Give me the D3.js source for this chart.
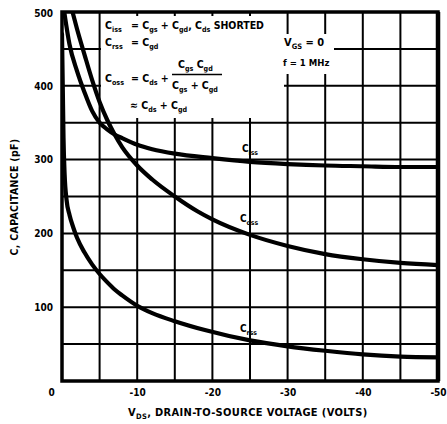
<!DOCTYPE html>
<html>
<head>
<meta charset="utf-8">
<script src="https://cdn.jsdelivr.net/npm/d3@7/dist/d3.min.js"></script>
<style>
  body { margin: 0; background: #fff; }
  text { font-family: "DejaVu Sans Condensed", "DejaVu Sans", sans-serif; font-weight: bold; fill: #000; }
</style>
</head>
<body>
<script>
// axis ticks (volts shown as negative numbers)
var vdsTicks = [0, 10, 20, 30, 40, 50];
var capTicks = [100, 200, 300, 400, 500];
var vdsGrid = [5, 10, 15, 20, 25, 30, 35, 40, 45];
var capGrid = [50, 100, 150, 200, 250, 300, 350, 400, 450];

// curves: [|VDS|, pF]
var cissPts = [[0.3, 500], [1, 456], [2, 420], [3, 391], [4, 366], [5, 350], [6, 341], [7, 334],
  [8, 329], [10, 320], [12, 314], [15, 308], [20, 302], [25, 297], [30, 294], [35, 292],
  [40, 291], [45, 290], [50, 290]];
var cossPts = [[1.4, 500], [2, 477], [3, 442], [4, 408], [5, 378], [6, 354], [7, 334], [8, 317],
  [10, 292], [12, 273], [15, 250], [18, 230], [20, 219], [25, 198], [30, 183], [35, 172],
  [40, 165], [45, 160], [50, 157]];
var crssPts = [[0, 470], [0.1, 400], [0.2, 330], [0.35, 280], [0.6, 246], [1, 225], [1.5, 208],
  [2, 194], [3, 174], [4, 158], [5, 145], [6, 134], [7, 124], [8, 116], [10, 102], [12, 92],
  [15, 81], [19, 69], [25, 55], [30, 47], [35, 41], [40, 36], [45, 33], [50, 32]];

var W = 447, H = 424;
var pL = 62, pR = 438, pT = 12, pB = 381;

var svg = d3.select("body").append("svg")
  .attr("width", W)
  .attr("height", H);

var x = d3.scaleLinear().domain([0, 50]).range([pL, pR]);
var y = d3.scaleLinear().domain([0, 500]).range([pB, pT]);

// grid
svg.selectAll("line.vg").data(vdsGrid).enter().append("line")
  .attr("x1", function(d){ return x(d); }).attr("x2", function(d){ return x(d); })
  .attr("y1", pT).attr("y2", pB)
  .attr("stroke", "#000").attr("stroke-width", 2);
svg.selectAll("line.hg").data(capGrid).enter().append("line")
  .attr("x1", pL).attr("x2", pR)
  .attr("y1", function(d){ return y(d); }).attr("y2", function(d){ return y(d); })
  .attr("stroke", "#000").attr("stroke-width", 2);

// white boxes behind the notes
svg.append("rect").attr("x", 101).attr("y", 16).attr("width", 183).attr("height", 102).attr("fill", "#fff");
svg.append("rect").attr("x", 282).attr("y", 34).attr("width", 52).attr("height", 40).attr("fill", "#fff");

// frame
svg.append("rect")
  .attr("x", pL).attr("y", pT)
  .attr("width", pR - pL).attr("height", pB - pT)
  .attr("fill", "none").attr("stroke", "#000").attr("stroke-width", 3.5);
svg.append("line").attr("x1", pR).attr("x2", pR).attr("y1", pT).attr("y2", pB)
  .attr("stroke", "#000").attr("stroke-width", 4.5);

// curves
svg.append("clipPath").attr("id", "plot")
  .append("rect").attr("x", pL).attr("y", pT).attr("width", pR - pL).attr("height", pB - pT);

var line = d3.line()
  .x(function(d){ return x(d[0]); })
  .y(function(d){ return y(d[1]); })
  .curve(d3.curveMonotoneX);

[cissPts, cossPts, crssPts].forEach(function(pts){
  svg.append("path")
    .datum(pts)
    .attr("d", line)
    .attr("clip-path", "url(#plot)")
    .attr("fill", "none")
    .attr("stroke", "#000")
    .attr("stroke-width", 4.2)
    .attr("stroke-linecap", "round");
});

// axes
var xAxis = svg.append("g")
  .attr("transform", "translate(0," + pB + ")")
  .call(d3.axisBottom(x).tickValues(vdsTicks).tickSize(0).tickPadding(8)
    .tickFormat(function(d){ return d === 0 ? "0" : "-" + d; }));
var yAxis = svg.append("g")
  .attr("transform", "translate(" + pL + ",0)")
  .call(d3.axisLeft(y).tickValues(capTicks).tickSize(0).tickPadding(9));
[xAxis, yAxis].forEach(function(g){
  g.select(".domain").remove();
  g.attr("font-family", null).attr("font-size", null);
  g.selectAll("text").style("font-size", "10px");
});
xAxis.selectAll(".tick").filter(function(d){ return d === 0; })
  .select("text").attr("dx", -11);
yAxis.selectAll(".tick").filter(function(d){ return d === 500; })
  .select("text").attr("dy", "0.4em");

// text with subscripts: parts = [[string, isSub], ...]
function rich(px, py, parts, size) {
  size = size || 10.5;
  var t = svg.append("text").attr("x", px).attr("y", py).style("font-size", size + "px");
  var sub = false;
  parts.forEach(function(p){
    var s = t.append("tspan").text(p[0]);
    if (p[1] && !sub) { s.attr("dy", 2.5).style("font-size", (size * 0.68) + "px"); sub = true; }
    else if (p[1]) { s.style("font-size", (size * 0.68) + "px"); }
    else if (sub) { s.attr("dy", -2.5); sub = false; }
  });
  return t;
}

// notes
rich(105, 29, [["C"], ["iss", 1]]);
rich(131, 29, [["= C"], ["gs", 1], [" + C"], ["gd", 1], [", C"], ["ds", 1], [" SHORTED"]]);
rich(105, 46, [["C"], ["rss", 1]]);
rich(131, 46, [["= C"], ["gd", 1]]);
rich(105, 82, [["C"], ["oss", 1]]);
rich(131, 82, [["= C"], ["ds", 1], [" +"]]);
rich(178, 68, [["C"], ["gs", 1], [" C"], ["gd", 1]]);
svg.append("line").attr("x1", 172).attr("x2", 222).attr("y1", 74.5).attr("y2", 74.5)
  .attr("stroke", "#000").attr("stroke-width", 1.5);
rich(172, 89, [["C"], ["gs", 1], [" + C"], ["gd", 1]]);
rich(130, 109, [["\u2248 C"], ["ds", 1], [" + C"], ["gd", 1]]);

rich(284, 46, [["V"], ["GS", 1], [" = 0"]], 11);
rich(283, 66, [["f = 1 MHz"]], 9.5);

// curve labels
rich(242, 152, [["C"], ["iss", 1]], 10);
rich(240, 222, [["C"], ["oss", 1]], 10);
rich(240, 332, [["C"], ["rss", 1]], 10);

// axis titles
rich(128, 416, [["V"], ["DS", 1], [", DRAIN-TO-SOURCE VOLTAGE (VOLTS)"]], 11)
  .style("letter-spacing", "0.35px");
svg.append("text")
  .attr("transform", "translate(18,197) rotate(-90)")
  .attr("text-anchor", "middle")
  .style("font-size", "10.5px")
  .style("letter-spacing", "0.3px")
  .text("C, CAPACITANCE (pF)");
</script>
</body>
</html>
